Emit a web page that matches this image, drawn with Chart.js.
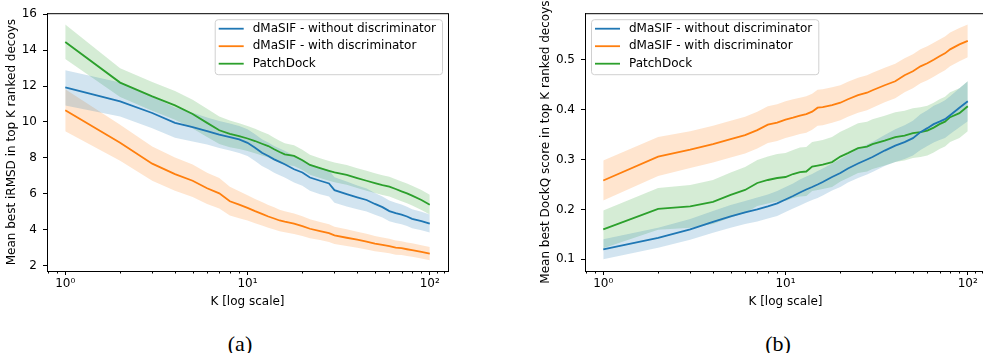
<!DOCTYPE html>
<html>
<head>
<meta charset="utf-8">
<script src="https://cdn.jsdelivr.net/npm/chart.js@4.4.0/dist/chart.umd.min.js"></script>
<style>
  html, body { margin: 0; padding: 0; background: #fff; overflow: hidden; width: 983px; height: 353px; }
  canvas { position: absolute; top: 0; }
  #irmsdChart { left: 0; }
  #dockqChart { left: 520px; }
  .caption { position: absolute; top: 333px; line-height: 22px; font-family: "Liberation Serif", "Times New Roman", serif; font-size: 22px; transform: translateX(-50%); }
</style>
</head>
<body>
<canvas id="irmsdChart" width="460" height="309"></canvas>
<canvas id="dockqChart" width="470" height="309"></canvas>
<div class="caption" style="left:240px">(a)</div>
<div class="caption" style="left:778px">(b)</div>
<script>
// K values (top K ranked decoys)
const kValues = [1,2,3,4,5,6,7,8,9,10,11,12,13,14,15,16,18,20,22,25,28,30,35,40,45,50,55,60,65,70,75,80,90,100];

const seriesNames = ["dMaSIF - without discriminator", "dMaSIF - with discriminator", "PatchDock"];
const seriesColors = ["#1f77b4", "#ff7f0e", "#2ca02c"];
const bandColors = ["rgba(31,119,180,0.2)", "rgba(255,127,14,0.2)", "rgba(44,160,44,0.2)"];

// (a) mean best iRMSD
const irmsdNoDisc   = [11.92,11.14,10.50,9.95,9.71,9.49,9.30,9.16,9.03,8.84,8.57,8.29,8.11,7.92,7.78,7.65,7.37,7.19,6.91,6.73,6.58,6.21,5.99,5.81,5.66,5.44,5.26,5.04,4.93,4.85,4.74,4.61,4.48,4.34];
const irmsdNoDiscHi = [12.87,12.20,11.40,10.80,10.51,10.25,10.05,9.91,9.78,9.59,9.32,9.04,8.86,8.67,8.53,8.40,8.12,7.94,7.66,7.47,7.32,6.92,6.69,6.47,6.30,6.05,5.86,5.63,5.51,5.41,5.29,5.15,5.00,4.85];
const irmsdNoDiscLo = [10.92,10.30,9.65,9.12,8.92,8.74,8.55,8.41,8.28,8.10,7.83,7.55,7.37,7.18,7.04,6.91,6.63,6.45,6.17,5.98,5.85,5.50,5.30,5.15,5.02,4.84,4.69,4.48,4.38,4.31,4.21,4.09,3.97,3.85];
const irmsdDisc     = [10.65,8.84,7.68,7.10,6.73,6.31,6.03,5.59,5.40,5.22,5.04,4.89,4.74,4.63,4.52,4.45,4.34,4.21,4.06,3.93,3.82,3.69,3.56,3.45,3.34,3.23,3.16,3.10,3.01,2.98,2.92,2.87,2.77,2.68];
const irmsdDiscHi   = [11.82,9.84,8.63,8.02,7.63,7.18,6.88,6.39,6.15,5.92,5.72,5.55,5.38,5.25,5.12,5.04,4.91,4.76,4.59,4.43,4.31,4.17,4.03,3.90,3.78,3.65,3.57,3.50,3.40,3.36,3.30,3.25,3.14,3.05];
const irmsdDiscLo   = [9.48,7.84,6.73,6.18,5.83,5.44,5.18,4.80,4.65,4.52,4.36,4.24,4.12,4.02,3.92,3.86,3.77,3.66,3.53,3.43,3.33,3.21,3.10,3.00,2.91,2.81,2.75,2.70,2.62,2.60,2.55,2.50,2.41,2.31];
const irmsdPatch    = [14.45,12.19,11.42,10.92,10.44,9.95,9.54,9.34,9.21,9.08,8.94,8.79,8.66,8.48,8.33,8.20,8.11,7.87,7.61,7.43,7.28,7.19,7.06,6.88,6.73,6.60,6.49,6.40,6.27,6.14,6.03,5.90,5.66,5.40];
const irmsdPatchHi  = [15.42,12.99,12.22,11.72,11.24,10.73,10.30,10.08,9.93,9.78,9.62,9.46,9.32,9.12,8.96,8.82,8.71,8.45,8.18,7.98,7.83,7.74,7.61,7.43,7.28,7.15,7.04,6.95,6.82,6.69,6.58,6.45,6.21,5.95];
const irmsdPatchLo  = [13.50,11.39,10.62,10.12,9.64,9.17,8.78,8.60,8.49,8.38,8.26,8.13,8.02,7.86,7.73,7.62,7.55,7.33,7.07,6.88,6.73,6.64,6.51,6.33,6.18,6.05,5.94,5.85,5.72,5.59,5.48,5.35,5.11,4.85];

// (b) mean best DockQ
const dockqNoDisc   = [0.120,0.143,0.160,0.175,0.186,0.194,0.200,0.206,0.212,0.220,0.227,0.234,0.240,0.245,0.250,0.255,0.265,0.273,0.282,0.292,0.300,0.305,0.318,0.328,0.335,0.343,0.355,0.363,0.371,0.376,0.381,0.389,0.404,0.417];
const dockqNoDiscHi = [0.140,0.163,0.181,0.197,0.209,0.217,0.224,0.230,0.237,0.245,0.252,0.260,0.266,0.271,0.277,0.282,0.292,0.301,0.310,0.321,0.330,0.335,0.349,0.361,0.369,0.378,0.391,0.399,0.408,0.413,0.419,0.427,0.443,0.457];
const dockqNoDiscLo = [0.100,0.123,0.139,0.153,0.163,0.171,0.176,0.182,0.187,0.195,0.202,0.208,0.214,0.219,0.223,0.228,0.238,0.245,0.254,0.263,0.270,0.275,0.287,0.295,0.301,0.308,0.319,0.327,0.334,0.339,0.343,0.351,0.365,0.377];
const dockqDisc     = [0.258,0.306,0.320,0.331,0.341,0.349,0.359,0.370,0.374,0.380,0.384,0.388,0.391,0.396,0.404,0.405,0.409,0.414,0.421,0.429,0.434,0.439,0.449,0.457,0.469,0.477,0.487,0.493,0.500,0.507,0.513,0.521,0.531,0.538];
const dockqDiscHi   = [0.298,0.345,0.357,0.368,0.378,0.386,0.396,0.407,0.411,0.417,0.421,0.424,0.427,0.432,0.440,0.441,0.445,0.449,0.456,0.464,0.469,0.474,0.484,0.492,0.503,0.511,0.521,0.527,0.534,0.541,0.547,0.555,0.564,0.571];
const dockqDiscLo   = [0.218,0.267,0.283,0.294,0.304,0.312,0.322,0.333,0.337,0.343,0.347,0.351,0.354,0.360,0.368,0.369,0.374,0.379,0.386,0.394,0.399,0.404,0.415,0.423,0.435,0.443,0.453,0.459,0.466,0.473,0.479,0.487,0.497,0.505];
const dockqPatch    = [0.160,0.201,0.206,0.215,0.229,0.239,0.253,0.259,0.263,0.265,0.271,0.275,0.276,0.286,0.288,0.290,0.295,0.306,0.313,0.323,0.326,0.331,0.338,0.345,0.348,0.353,0.355,0.358,0.364,0.371,0.376,0.385,0.393,0.407];
const dockqPatchHi  = [0.198,0.243,0.249,0.259,0.274,0.285,0.299,0.306,0.311,0.313,0.319,0.324,0.325,0.335,0.337,0.339,0.345,0.356,0.363,0.373,0.376,0.381,0.388,0.395,0.398,0.403,0.405,0.408,0.414,0.421,0.426,0.435,0.443,0.457];
const dockqPatchLo  = [0.122,0.159,0.163,0.171,0.184,0.193,0.207,0.212,0.216,0.217,0.223,0.226,0.227,0.237,0.239,0.241,0.245,0.256,0.263,0.273,0.276,0.281,0.288,0.295,0.298,0.303,0.305,0.308,0.314,0.321,0.326,0.335,0.343,0.357];

// axis ticks
const kTicks = [1, 10, 100];
const kTickLabels = ["10\u2070", "10\u00b9", "10\u00b2"];
const kMinorTicks = [0.8,0.9,2,3,4,5,6,7,8,9,20,30,40,50,60,70,80,90,110,120];
const irmsdTicks = [2, 4, 6, 8, 10, 12, 14, 16];
const dockqTicks = [0.1, 0.2, 0.3, 0.4, 0.5];

Chart.defaults.font.family = "'DejaVu Sans', sans-serif";
Chart.defaults.font.size = 12;
Chart.defaults.color = "#000";

const pts = arr => kValues.map((k, i) => ({ x: k, y: arr[i] }));

function buildDatasets(lines, bands) {
  const sets = lines.map((arr, i) => ({
    data: pts(arr), borderColor: seriesColors[i], borderWidth: 1.8,
    pointRadius: 0, fill: false, tension: 0
  }));
  bands.forEach(([hi, lo], i) => {
    sets.push({ data: pts(hi), borderColor: "rgba(0,0,0,0)", borderWidth: 0, pointRadius: 0, fill: false });
    sets.push({ data: pts(lo), borderColor: "rgba(0,0,0,0)", borderWidth: 0, pointRadius: 0,
                fill: "-1", backgroundColor: bandColors[i] });
  });
  return sets;
}

// box spines, minor x ticks and the legend
const decorations = {
  id: "decorations",
  afterDraw(chart, args, opts) {
    const { ctx, chartArea: a } = chart;
    const xs = chart.scales.x;
    ctx.save();
    ctx.strokeStyle = "#000";
    ctx.lineWidth = 1;
    ctx.beginPath();
    ctx.moveTo(a.left, a.top + 0.5); ctx.lineTo(a.right, a.top + 0.5);
    ctx.moveTo(Math.round(a.right) + 0.5, a.top); ctx.lineTo(Math.round(a.right) + 0.5, a.bottom);
    kMinorTicks.forEach(v => {
      const px = Math.round(xs.getPixelForValue(v)) + 0.5;
      ctx.moveTo(px, a.bottom); ctx.lineTo(px, a.bottom + 2.5);
    });
    ctx.stroke();

    ctx.font = "12px 'DejaVu Sans'";
    const textW = Math.max(...seriesNames.map(n => ctx.measureText(n).width));
    const w = 4 + 25 + 9 + textW + 6;
    const h = 55;
    const x = opts.side === "right" ? a.right - 6 - w : a.left + 6;
    const y = a.top + 6;
    ctx.beginPath();
    ctx.roundRect(x + 0.5, y + 0.5, w, h, 3);
    ctx.fillStyle = "rgba(255,255,255,0.8)";
    ctx.fill();
    ctx.strokeStyle = "#d0d0d0";
    ctx.stroke();
    seriesNames.forEach((name, i) => {
      const ry = y + 9.5 + i * 17.5;
      ctx.strokeStyle = seriesColors[i];
      ctx.lineWidth = 1.8;
      ctx.beginPath();
      ctx.moveTo(x + 4, ry); ctx.lineTo(x + 29, ry);
      ctx.stroke();
      ctx.fillStyle = "#000";
      ctx.textBaseline = "middle";
      ctx.fillText(name, x + 38, ry);
    });
    ctx.restore();
  }
};

function makeChart(id, lines, bands, yTicks, yMin, yMax, yTitle, opt) {
  return new Chart(document.getElementById(id), {
    type: "line",
    data: { datasets: buildDatasets(lines, bands) },
    options: {
      responsive: false,
      animation: false,
      events: [],
      layout: { padding: { top: 11, right: opt.padRight, left: 0, bottom: 0 } },
      plugins: {
        legend: { display: false },
        tooltip: { enabled: false },
        filler: { drawTime: "beforeDatasetsDraw" },
        decorations: { side: opt.legendSide }
      },
      scales: {
        x: {
          type: "logarithmic", min: 0.794, max: 125.9,
          afterBuildTicks: s => { s.ticks = kTicks.map(v => ({ value: v })); },
          afterFit: s => { s.height = 38; },
          ticks: { autoSkip: false, maxRotation: 0, padding: 2,
                   callback: v => kTickLabels[kTicks.indexOf(v)] },
          grid: { drawOnChartArea: false, tickLength: 4, tickColor: "#000", tickWidth: 1 },
          border: { color: "#000", width: 1 },
          title: { display: true, text: "K [log scale]", padding: { top: 0, bottom: 0 } }
        },
        y: {
          min: yMin, max: yMax,
          afterBuildTicks: s => { s.ticks = yTicks.map(v => ({ value: v })); },
          afterFit: s => { s.width = opt.yWidth; },
          ticks: { padding: 6, callback: opt.yFmt },
          grid: { drawOnChartArea: false, tickLength: 4, tickColor: "#000", tickWidth: 1 },
          border: { color: "#000", width: 1 },
          title: { display: true, text: yTitle, padding: { top: opt.titlePad, bottom: 0 } }
        }
      }
    },
    plugins: [decorations]
  });
}

makeChart("irmsdChart",
  [irmsdNoDisc, irmsdDisc, irmsdPatch],
  [[irmsdNoDiscHi, irmsdNoDiscLo], [irmsdDiscHi, irmsdDiscLo], [irmsdPatchHi, irmsdPatchLo]],
  irmsdTicks, 1.71, 16.05, "Mean best iRMSD in top K ranked decoys",
  { padRight: 12, yWidth: 47, titlePad: 5, legendSide: "right", yFmt: v => String(v) });

makeChart("dockqChart",
  [dockqNoDisc, dockqDisc, dockqPatch],
  [[dockqNoDiscHi, dockqNoDiscLo], [dockqDiscHi, dockqDiscLo], [dockqPatchHi, dockqPatchLo]],
  dockqTicks, 0.0765, 0.5935, "Mean best DockQ score in top K ranked decoys",
  { padRight: 4, yWidth: 65, titlePad: 19, legendSide: "left", yFmt: v => v.toFixed(1) });
</script>
</body>
</html>
